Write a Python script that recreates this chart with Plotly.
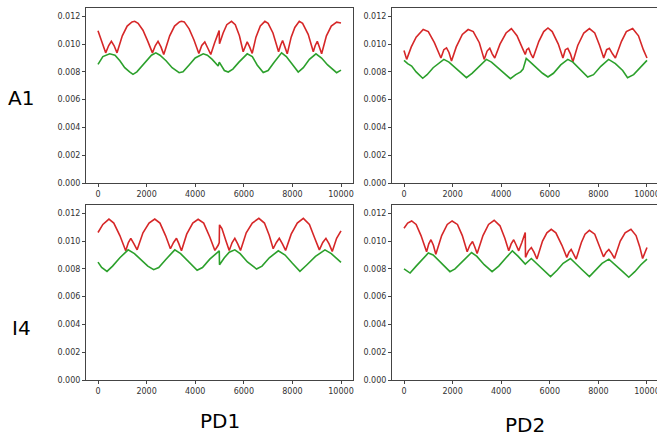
import plotly.graph_objects as go

# A1 / PD1
a1_pd1_red_x = [0, 150, 316, 440, 550, 660, 783, 1000, 1200, 1400, 1510, 1650, 1850, 2050, 2240, 2360, 2470, 2590, 2706,
                2950, 3150, 3350, 3434, 3550, 3750, 3950, 4150, 4270, 4395, 4520, 4640, 4800, 4986, 5000, 5150, 5300,
                5494, 5650, 5820, 5975, 6060, 6140, 6240, 6346, 6500, 6680, 6868, 7000, 7200, 7431, 7510, 7596, 7690,
                7788, 7950, 8100, 8283, 8420, 8650, 8860, 8940, 9025, 9110, 9203, 9400, 9600, 9821, 10000]
a1_pd1_red_y = [0.01097, 0.0102, 0.00937, 0.0099, 0.0102, 0.0099, 0.00937, 0.0106, 0.0113, 0.0116, 0.01164, 0.0115,
                0.0110, 0.0102, 0.00937, 0.0099, 0.0102, 0.0098, 0.00926, 0.0106, 0.0113, 0.0116, 0.01164, 0.0116,
                0.0111, 0.0103, 0.00933, 0.0099, 0.01016, 0.0097, 0.00926, 0.0101, 0.01097, 0.01002, 0.0108, 0.0114,
                0.01164, 0.0114, 0.0106, 0.00945, 0.0099, 0.01016, 0.0098, 0.00933, 0.0105, 0.0113, 0.01164, 0.0115,
                0.0108, 0.00945, 0.0099, 0.01026, 0.0098, 0.0093, 0.0105, 0.0112, 0.01164, 0.0115, 0.0107, 0.00945,
                0.0099, 0.0102, 0.0098, 0.0093, 0.0106, 0.0113, 0.01158, 0.01152]
a1_pd1_green_x = [0, 200, 480, 700, 900, 1100, 1300, 1440, 1600, 1800, 2000, 2200, 2380, 2550, 2800, 3050, 3340, 3500,
                  3750, 4000, 4330, 4500, 4700, 4945, 4990, 5050, 5200, 5360, 5550, 5800, 6140, 6350, 6550, 6800, 7000,
                  7250, 7555, 7750, 8000, 8240, 8450, 8700, 8970, 9200, 9450, 9700, 9820, 10000]
a1_pd1_green_y = [0.00854, 0.0091, 0.0093, 0.0092, 0.0088, 0.0083, 0.0080, 0.00782, 0.0080, 0.0084, 0.0088, 0.0092,
                  0.00937, 0.0092, 0.0088, 0.0083, 0.00794, 0.0080, 0.0085, 0.0090, 0.0093, 0.0092, 0.0089, 0.00842,
                  0.0087, 0.0085, 0.0081, 0.00799, 0.0082, 0.0087, 0.0093, 0.0091, 0.0085, 0.00796, 0.0081, 0.0087,
                  0.00937, 0.0091, 0.0085, 0.00799, 0.0083, 0.0089, 0.0093, 0.0090, 0.0085, 0.0081, 0.00794, 0.00813]

# A1 / PD2
a1_pd2_red_x = [0, 110, 300, 500, 790, 1000, 1250, 1520, 1640, 1750, 1850, 1955, 2150, 2400, 2640, 2850, 3100, 3300,
                3420, 3530, 3630, 3735, 3950, 4200, 4420, 4650, 4900, 4990, 5050, 5130, 5220, 5310, 5550, 5750, 5925,
                6100, 6350, 6540, 6640, 6740, 6850, 6950, 7150, 7400, 7630, 7850, 8050, 8220, 8340, 8450, 8580, 8700,
                8950, 9150, 9410, 9650, 9850, 10000]
a1_pd2_red_y = [0.00954, 0.0089, 0.0098, 0.0105, 0.01105, 0.0109, 0.0101, 0.0090, 0.0096, 0.00973, 0.0094, 0.00878,
                0.0098, 0.0107, 0.01105, 0.0109, 0.0101, 0.0089, 0.0095, 0.0097, 0.0093, 0.0090, 0.0100, 0.0108,
                0.01112, 0.0106, 0.0096, 0.00925, 0.0096, 0.0097, 0.0093, 0.0090, 0.0102, 0.0109, 0.01116, 0.0109,
                0.0100, 0.0090, 0.0096, 0.0097, 0.0093, 0.00873, 0.0099, 0.0108, 0.01112, 0.0108, 0.0099, 0.0090,
                0.0096, 0.0097, 0.0093, 0.0090, 0.0102, 0.0109, 0.01112, 0.0106, 0.0096, 0.0090]
a1_pd2_green_x = [0, 150, 315, 500, 770, 950, 1200, 1400, 1640, 1850, 2160, 2350, 2570, 2800, 3100, 3390, 3600, 3850,
                  4100, 4380, 4600, 4800, 4900, 5030, 5200, 5450, 5700, 5925, 6150, 6450, 6740, 6950, 7250, 7560, 7800,
                  8100, 8420, 8700, 9000, 9200, 9450, 9700, 10000]
a1_pd2_green_y = [0.00883, 0.0086, 0.00842, 0.0080, 0.00754, 0.0078, 0.0083, 0.0086, 0.0089, 0.0087, 0.0082, 0.0079,
                  0.00758, 0.0079, 0.0084, 0.0089, 0.0087, 0.0083, 0.0079, 0.00751, 0.0078, 0.0080, 0.0082, 0.00897,
                  0.0087, 0.0083, 0.0079, 0.00763, 0.0079, 0.0085, 0.0089, 0.0087, 0.0082, 0.00763, 0.0078, 0.0084,
                  0.0089, 0.0086, 0.0081, 0.00758, 0.0078, 0.0083, 0.00883]

# I4 / PD1
i4_pd1_red_x = [0, 200, 450, 650, 900, 1140, 1250, 1350, 1480, 1610, 1850, 2100, 2335, 2550, 2780, 2980, 3110, 3230,
                3330, 3435, 3650, 3900, 4120, 4350, 4600, 4810, 4945, 4990, 5000, 5100, 5250, 5400, 5520, 5630, 5750,
                5865, 6100, 6350, 6620, 6850, 7050, 7210, 7340, 7460, 7590, 7720, 7950, 8200, 8450, 8700, 8900, 9110,
                9250, 9380, 9510, 9640, 9820, 10000]
i4_pd1_red_y = [0.01062, 0.0112, 0.01159, 0.0113, 0.0104, 0.0093, 0.0099, 0.0102, 0.0098, 0.00937, 0.0106, 0.0113,
                0.01159, 0.0113, 0.0104, 0.00945, 0.0099, 0.0102, 0.0098, 0.0093, 0.0105, 0.0113, 0.01157, 0.0113,
                0.0103, 0.00933, 0.0097, 0.0099, 0.01117, 0.0109, 0.0101, 0.00933, 0.0099, 0.0102, 0.0098, 0.00933,
                0.0106, 0.0113, 0.01164, 0.0113, 0.0104, 0.00945, 0.0099, 0.0102, 0.0098, 0.00933, 0.0105, 0.0113,
                0.01164, 0.0112, 0.0103, 0.00937, 0.0099, 0.0102, 0.0098, 0.00926, 0.0102, 0.01074]
i4_pd1_green_x = [0, 150, 370, 600, 900, 1240, 1500, 1800, 2050, 2290, 2500, 2800, 3160, 3400, 3700, 4080, 4300, 4600,
                  4990, 5000, 5200, 5400, 5630, 5850, 6150, 6525, 6750, 7050, 7420, 7700, 8000, 8310, 8600, 8950, 9340,
                  9600, 10000]
i4_pd1_green_y = [0.00849, 0.0081, 0.00782, 0.0082, 0.0088, 0.00937, 0.0091, 0.0086, 0.0082, 0.00794, 0.0081, 0.0087,
                  0.00937, 0.0091, 0.0086, 0.0079, 0.0081, 0.0087, 0.0093, 0.0083, 0.0088, 0.0092, 0.00937, 0.0091,
                  0.0085, 0.00799, 0.0082, 0.0088, 0.0093, 0.0090, 0.0084, 0.00782, 0.0083, 0.0089, 0.00937, 0.0091,
                  0.00847]

# I4 / PD2
i4_pd2_red_x = [0, 150, 315, 500, 700, 930, 1020, 1110, 1210, 1310, 1550, 1780, 1980, 2200, 2400, 2600, 2710, 2820,
                2910, 3010, 3250, 3480, 3710, 3950, 4150, 4310, 4410, 4515, 4620, 4720, 4850, 4990, 5000, 5120, 5240,
                5350, 5470, 5700, 5880, 6060, 6250, 6500, 6700, 6790, 6880, 6980, 7085, 7300, 7450, 7630, 7850, 8050,
                8210, 8320, 8430, 8550, 8660, 8900, 9100, 9340, 9550, 9700, 9820, 10000]
i4_pd2_red_y = [0.01093, 0.0113, 0.01145, 0.0112, 0.0104, 0.00923, 0.0098, 0.0101, 0.0097, 0.00906, 0.0104, 0.0112,
                0.01145, 0.0112, 0.0104, 0.00923, 0.0097, 0.00997, 0.0096, 0.0091, 0.0104, 0.0112, 0.0115, 0.0111,
                0.0102, 0.0093, 0.0098, 0.0101, 0.0097, 0.0093, 0.0099, 0.01062, 0.00883, 0.0093, 0.00954, 0.0092,
                0.00871, 0.0100, 0.0106, 0.01085, 0.0106, 0.0097, 0.00883, 0.0092, 0.0094, 0.0091, 0.00871, 0.0099,
                0.0105, 0.01078, 0.0105, 0.0096, 0.00887, 0.0092, 0.0094, 0.0091, 0.00875, 0.0100, 0.0106, 0.01085,
                0.0104, 0.0096, 0.00875, 0.00954]
i4_pd2_green_x = [0, 250, 500, 750, 1000, 1200, 1500, 1890, 2100, 2450, 2780, 3000, 3300, 3625, 3900, 4200, 4460, 4700,
                  4990, 5240, 5450, 5750, 6030, 6300, 6550, 6850, 7100, 7350, 7630, 7900, 8150, 8430, 8700, 9000, 9250,
                  9500, 9750, 10000]
i4_pd2_green_y = [0.0080, 0.0077, 0.0082, 0.0087, 0.00914, 0.0090, 0.0085, 0.0078, 0.0080, 0.0086, 0.00918, 0.0089,
                  0.0083, 0.0078, 0.0082, 0.0088, 0.0093, 0.0089, 0.00835, 0.00875, 0.0084, 0.0079, 0.00744, 0.0079,
                  0.0084, 0.00875, 0.0083, 0.0079, 0.00744, 0.0079, 0.0084, 0.0087, 0.0083, 0.0078, 0.0074, 0.0078,
                  0.0083, 0.0087]

row_labels = ['A1', 'I4']
col_labels = ['PD1', 'PD2']
x_ticks = [0, 2000, 4000, 6000, 8000, 10000]
y_ticks = [0.000, 0.002, 0.004, 0.006, 0.008, 0.010, 0.012]

RED = '#d62728'
GREEN = '#2ca02c'

panels = [
    (1, a1_pd1_red_x, a1_pd1_red_y, a1_pd1_green_x, a1_pd1_green_y),
    (2, a1_pd2_red_x, a1_pd2_red_y, a1_pd2_green_x, a1_pd2_green_y),
    (3, i4_pd1_red_x, i4_pd1_red_y, i4_pd1_green_x, i4_pd1_green_y),
    (4, i4_pd2_red_x, i4_pd2_red_y, i4_pd2_green_x, i4_pd2_green_y),
]

W, H = 657, 437
x_doms = [[86 / W, 353 / W], [392 / W, 1.0]]
x_ranges = [[-494, 10494], [-494, 10412]]
y_doms = [[1 - 183 / H, 1 - 8 / H], [1 - 380 / H, 1 - 205 / H]]

fig = go.Figure()
layout = dict(width=W, height=H, margin=dict(l=0, r=0, t=0, b=0, autoexpand=False),
              paper_bgcolor='white', plot_bgcolor='white', showlegend=False)

tick_font = dict(family='DejaVu Sans', size=8, color='#333')

for n, rx, ry, gx, gy in panels:
    row = (n - 1) // 2
    col = (n - 1) % 2
    xa = 'x' if n == 1 else 'x%d' % n
    ya = 'y' if n == 1 else 'y%d' % n
    fig.add_trace(go.Scatter(x=rx, y=ry, mode='lines', line=dict(color=RED, width=1.6), xaxis=xa, yaxis=ya))
    fig.add_trace(go.Scatter(x=gx, y=gy, mode='lines', line=dict(color=GREEN, width=1.6), xaxis=xa, yaxis=ya))
    key = '' if n == 1 else str(n)
    layout['xaxis' + key] = dict(domain=x_doms[col], range=x_ranges[col], anchor=ya, automargin=False,
                                 tickvals=x_ticks, ticktext=[str(v) for v in x_ticks], ticklabeloverflow='allow',
                                 showgrid=False, zeroline=False, showline=True, linecolor='#444', linewidth=1,
                                 mirror=True, ticks='outside', ticklen=3, tickcolor='#444', tickfont=tick_font)
    layout['yaxis' + key] = dict(domain=y_doms[row], range=[0, 0.0126], anchor=xa, automargin=False,
                                 tickvals=y_ticks, ticktext=['%.3f' % v for v in y_ticks],
                                 showgrid=False, zeroline=False, showline=True, linecolor='#444', linewidth=1,
                                 mirror=(col == 0), ticks='outside', ticklen=3, tickcolor='#444', tickfont=tick_font)

fig.update_layout(**layout)

# подписи строк и столбцов
label_font = dict(family='DejaVu Sans', size=20, color='black')
for label, yc in zip(row_labels, [98, 328]):
    fig.add_annotation(text=label, x=21 / W, y=1 - yc / H, xref='paper', yref='paper',
                       showarrow=False, font=label_font, xanchor='center', yanchor='middle')
for label, xc, yc in zip(col_labels, [220, 525], [421, 425]):
    fig.add_annotation(text=label, x=xc / W, y=1 - yc / H, xref='paper', yref='paper',
                       showarrow=False, font=label_font, xanchor='center', yanchor='middle')

# убираем отступ body, чтобы график встал ровно в окно
fig.write_html("out.html", config={'displayModeBar': False},
               post_script="document.body.style.margin='0';")
